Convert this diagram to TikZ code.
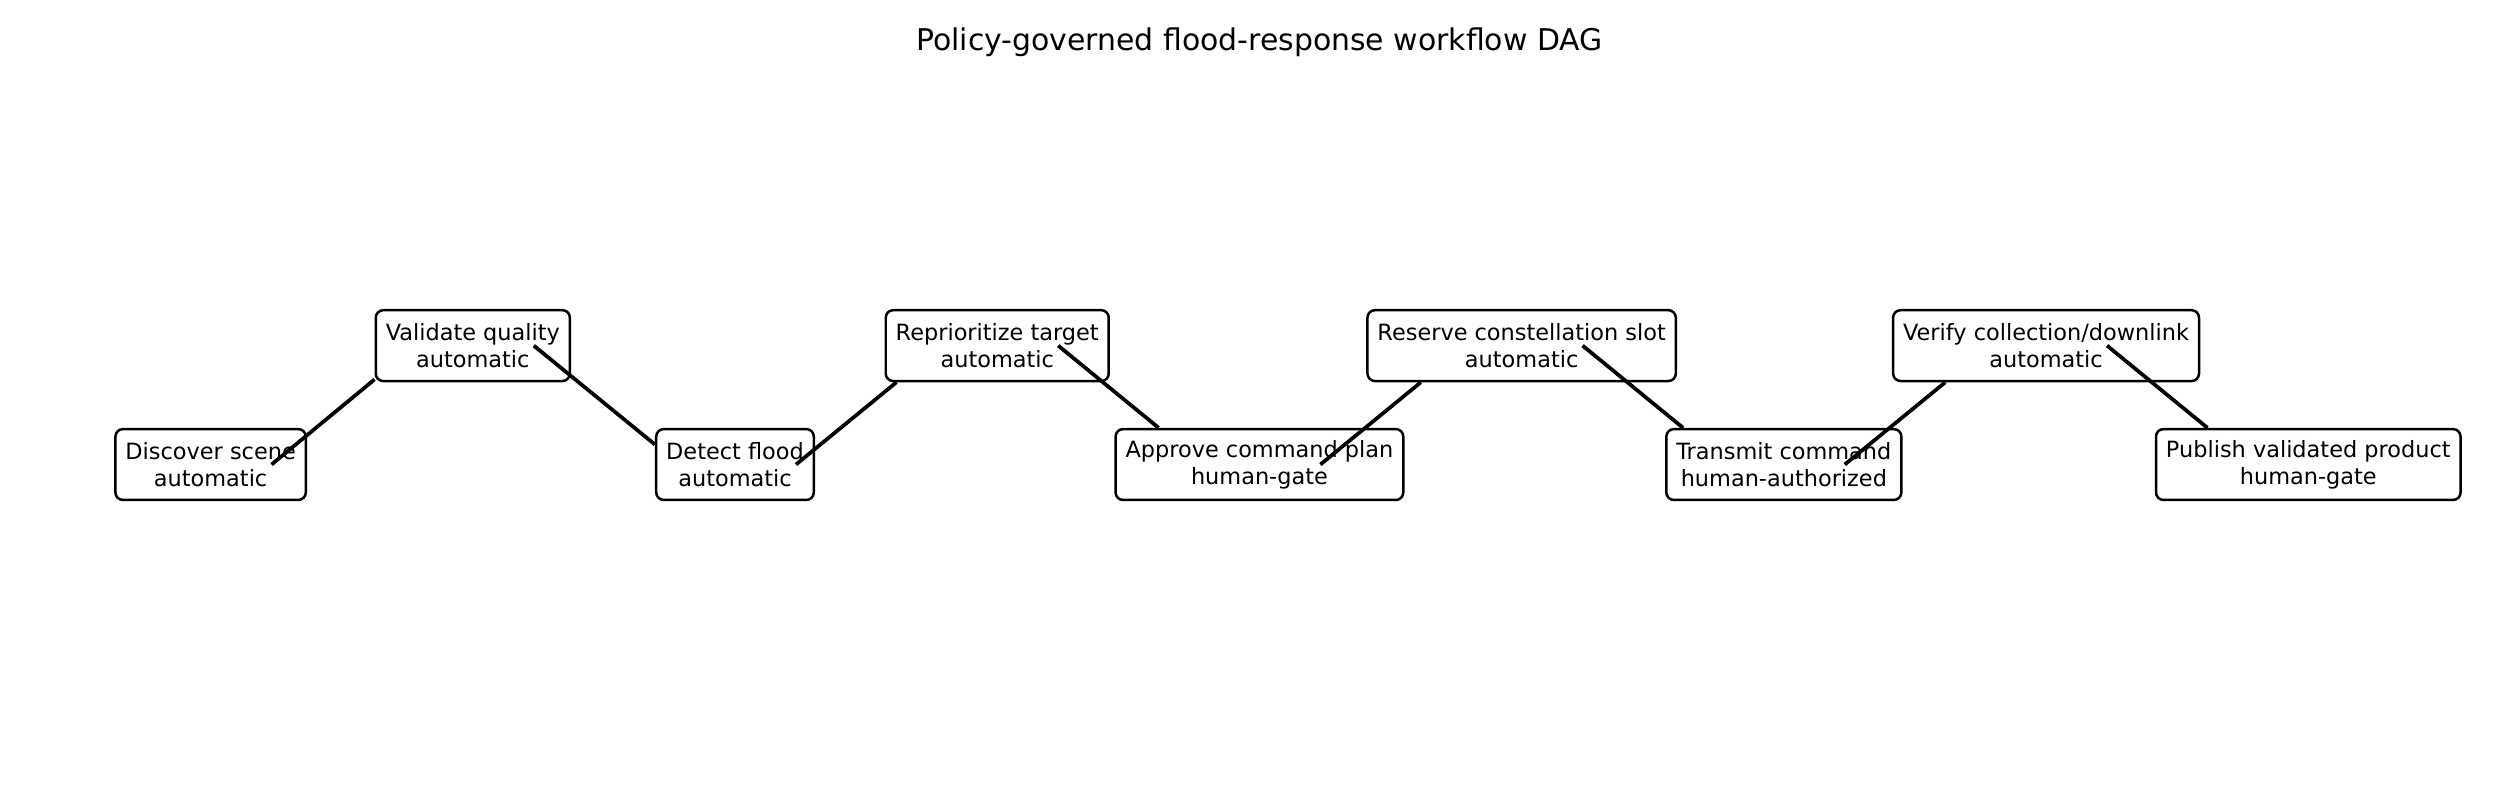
\documentclass[tikz,border=0pt]{standalone}
\usepackage{fontspec}
\setmainfont{DejaVu Sans}

\begin{document}
\begin{tikzpicture}[task/.style={draw,line width=1pt,rounded corners=3pt,fill=white,align=center,
      font=\fontsize{9}{10.8}\selectfont,inner xsep=4pt,inner ysep=2pt,minimum height=1cm},
    link/.style={line width=1.5pt}]
      \useasboundingbox (0,0) rectangle (35.56,11.43);
      \node (title) at (17.772,10.84) {\fontsize{12}{14.4}\selectfont Policy-governed flood-response workflow DAG};
      \node[task] (discover) at (2.972,4.875) {Discover scene\\automatic};
      \node[task] (validate) at (6.672,6.553) {Validate quality\\automatic};
      \node[task] (detect) at (10.372,4.875) {Detect flood\\automatic};
      \node[task] (reprioritize) at (14.072,6.553) {Reprioritize target\\automatic};
      \node[task] (approve) at (17.772,4.875) {Approve command plan\\human-gate};
      \node[task] (reserve) at (21.472,6.553) {Reserve constellation slot\\automatic};
      \node[task] (transmit) at (25.172,4.875) {Transmit command\\human-authorized};
      \node[task] (verify) at (28.872,6.553) {Verify collection/downlink\\automatic};
      \node[task] (publish) at (32.572,4.875) {Publish validated product\\human-gate};
      % edges start right of the source centre, stop at the target box
      \draw[link] ([xshift=.86cm]discover.center) -- (validate.-161);
      \draw[link] ([xshift=.86cm]validate.center) -- (detect.166);
      \draw[link] ([xshift=.86cm]detect.center) -- (reprioritize.-160.4);
      \draw[link] ([xshift=.86cm]reprioritize.center) -- (approve.160.4);
      \draw[link] ([xshift=.86cm]approve.center) -- (reserve.-160.4);
      \draw[link] ([xshift=.86cm]reserve.center) -- (transmit.160.4);
      \draw[link] ([xshift=.86cm]transmit.center) -- (verify.-160.4);
      \draw[link] ([xshift=.86cm]verify.center) -- (publish.160.4);
    \end{tikzpicture}
\end{document}
